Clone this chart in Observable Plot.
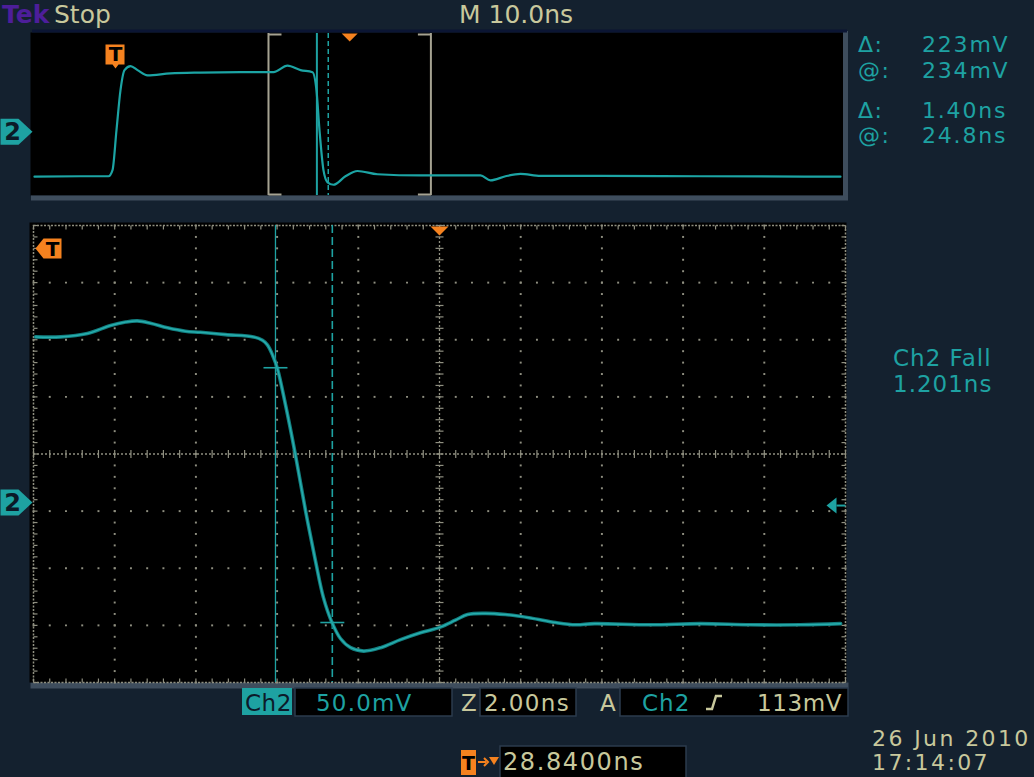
<!DOCTYPE html>
<html><head><meta charset="utf-8">
<script src="https://cdn.jsdelivr.net/npm/d3@7"></script>
<script src="https://cdn.jsdelivr.net/npm/@observablehq/plot@0.6"></script>
<style>
html,body{margin:0;padding:0;background:#14212f;}
#wrap{position:relative;width:1034px;height:777px;overflow:hidden;background:#14212f;}
#wrap svg{position:absolute;left:0;top:0;}
</style></head><body><div id="wrap"></div>
<script>
// ---------- data (time in ns, voltage in mV) ----------
const detailTime = [18.89, 19.51, 20.17, 20.74, 21.11, 21.40, 21.72, 22.14, 22.58, 22.95, 23.57, 24.26, 24.48, 24.60, 24.73, 24.85, 25.05, 25.29, 25.54, 25.79, 25.98, 26.18, 26.40, 26.65, 26.97, 27.39, 27.88, 28.37, 28.86, 29.23, 29.53, 29.97, 30.46, 31.08, 31.70, 32.19, 32.66, 34.04, 35.27, 36.50, 37.73, 38.72];
const detailMv   = [145, 145, 148, 155, 158, 159, 157, 153, 150, 149, 147, 145, 142, 138, 129, 117, 85, 42, -7, -52, -83, -104, -119, -127, -130, -127, -120, -114, -109, -103, -98, -97, -98, -101, -105, -107, -106, -107, -106, -107, -107, -106];
const overviewTime = [-9.98, -4.31, -0.86, -0.37, 0.12, 0.61, 1.11, 1.85, 2.71, 3.94, 6.77, 10.47, 15.39, 19.46, 21.18, 22.78, 24.26, 24.75, 25.12, 25.61, 26.11, 26.84, 28.32, 29.80, 32.26, 37.56, 44.95, 46.18, 48.03, 49.88, 52.34, 59.73, 72.04, 89.28];
const overviewMv   = [-111, -110, -110, -95, 4, 102, 152, 162, 152, 139, 144, 146, 147, 147, 163, 152, 147, 102, 4, -95, -125, -131, -110, -97, -105, -108, -108, -120, -110, -104, -109, -109, -110, -111];
const cursorTime = [24.8, 26.2];
const cursorMv = [118, -105];
const triggerTime = 0;
const triggerToCenter = 28.84;
const mainX = [18.84, 38.84];      // 2.00 ns/div x 10
const overX = [-10.1, 89.9];       // 10.0 ns/div x 10
const yMv = [-157.5, 242.5];       // 50.0 mV/div x 8
const readoutLabels = ["Δ:", "@:", "Δ:", "@:"];
const readoutValues = ["223mV", "234mV", "1.40ns", "24.8ns"];
const measureLines = ["Ch2 Fall", "1.201ns"];
const dateLines = ["26 Jun 2010", "17:14:07"];

// ---------- styles ----------
const W = 1034, H = 777;
const font = "DejaVu Sans";
const teal = "#1ea2a2", beige = "#c8c89c", orange = "#f5821f", gridC = "#8f8f80", slate = "#3e4d5d";

const seg = (x1, y1, x2, y2) => ({draw(c) { c.moveTo(x1, y1); c.lineTo(x2, y2); }});
const poly = pts => ({draw(c) { pts.forEach(([x, y], i) => i ? c.lineTo(x, y) : c.moveTo(x, y)); c.closePath(); }});

const detail = detailTime.map((t, i) => ({t, v: detailMv[i]}));
const overview = overviewTime.map((t, i) => ({t, v: overviewMv[i]}));
const cursors = cursorTime.map((t, i) => ({t, v: cursorMv[i]}));

// graticule positions
const majorX = d3.range(0, 11).map(k => mainX[0] + 2 * k);
const majorY = d3.range(0, 9).map(k => yMv[0] + 50 * k);
const centerX = majorX[5], centerY = majorY[4];
const innerX = majorX.slice(1, -1).filter(d => d !== centerX);
const innerY = majorY.slice(1, -1).filter(d => d !== centerY);
const minorX = d3.range(0, 51).map(k => mainX[0] + 0.4 * k);
const minorY = d3.range(0, 41).map(k => yMv[0] + 10 * k);
const gridDots = [
  ...innerX.flatMap(x => minorY.map(y => ({x, y}))),
  ...innerY.flatMap(y => minorX.map(x => ({x, y})))
];

const groundFlag = poly([[-33, -13], [-15, -13], [-1, 0], [-15, 13], [-33, 13]]);

const main = Plot.plot({
  width: W, height: H,
  marginLeft: 33, marginRight: 189, marginTop: 225, marginBottom: 95,
  x: {domain: mainX, axis: null},
  y: {domain: yMv, axis: null},
  style: {background: "transparent", overflow: "visible"},
  marks: [
    Plot.frame({anchor: "bottom", stroke: slate, strokeWidth: 6, dy: 3}),
    Plot.frame({fill: "#000", insetLeft: -4, insetRight: -1, insetTop: -3, insetBottom: 0}),
    Plot.dot(gridDots, {x: "x", y: "y", symbol: "square", r: 1.1, fill: gridC}),
    Plot.ruleX([centerX], {stroke: gridC, strokeWidth: 1.3, strokeDasharray: "2,2"}),
    Plot.ruleY([centerY], {stroke: gridC, strokeWidth: 1.3, strokeDasharray: "2,2"}),
    Plot.dot(minorX, {x: d => d, y: centerY, symbol: seg(0, -4, 0, 4), stroke: gridC, strokeWidth: 1.2}),
    Plot.dot(minorY, {x: centerX, y: d => d, symbol: seg(-4, 0, 4, 0), stroke: gridC, strokeWidth: 1.2}),
    Plot.frame({stroke: gridC, strokeWidth: 1.5, strokeDasharray: "2,1.5"}),
    Plot.dot(minorX, {x: d => d, y: yMv[1], symbol: seg(0, 0, 0, 4), stroke: gridC, strokeWidth: 1.2}),
    Plot.dot(minorX, {x: d => d, y: yMv[0], symbol: seg(0, 0, 0, -4), stroke: gridC, strokeWidth: 1.2}),
    Plot.dot(minorY, {x: mainX[0], y: d => d, symbol: seg(0, 0, 4, 0), stroke: gridC, strokeWidth: 1.2}),
    Plot.dot(minorY, {x: mainX[1], y: d => d, symbol: seg(0, 0, -4, 0), stroke: gridC, strokeWidth: 1.2}),
    // cursors
    Plot.ruleX([cursorTime[0]], {stroke: teal, strokeWidth: 1.3}),
    Plot.ruleX([cursorTime[1]], {stroke: teal, strokeWidth: 1.6, strokeDasharray: "8,4"}),
    // waveform
    Plot.line(detail, {x: "t", y: "v", stroke: "#137f80", strokeWidth: 3.6, curve: "catmull-rom"}),
    Plot.line(detail, {x: "t", y: "v", stroke: "#27aeae", strokeWidth: 1.5, curve: "catmull-rom"}),
    Plot.dot(cursors, {x: "t", y: "v", symbol: seg(-12, 0, 12, 0), stroke: teal, strokeWidth: 1.6}),
    // markers
    Plot.dot([triggerToCenter], {x: d => d, frameAnchor: "top", symbol: poly([[-9, 1], [9, 1], [0, 10]]), fill: orange}),
    Plot.dot([0], {frameAnchor: "top-left", symbol: poly([[2, 23], [10, 13], [28, 13], [28, 33], [10, 33]]), fill: orange}),
    Plot.text(["T"], {text: d => d, frameAnchor: "top-left", dx: 19, dy: 24, textAnchor: "middle", lineAnchor: "middle", fill: "#000", fontWeight: "bold", fontSize: 20, fontFamily: font}),
    Plot.dot([0], {x: mainX[0], y: 0, symbol: groundFlag, fill: teal}),
    Plot.text(["2"], {text: d => d, x: mainX[0], y: 0, dx: -21, dy: 1, textAnchor: "middle", lineAnchor: "middle", fill: "#0b1a28", fontWeight: "bold", fontSize: 24, fontFamily: font}),
    Plot.dot([0], {x: mainX[1], y: 0, dy: 3, symbol: poly([[-19, 0], [-9, -8], [-9, 8]]), fill: teal}),
    Plot.dot([0], {x: mainX[1], y: 0, dy: 3, symbol: seg(-9, 0, 0, 0), stroke: teal, strokeWidth: 2})
  ]
});

const over = Plot.plot({
  width: W, height: 205,
  marginLeft: 33, marginRight: 189, marginTop: 33, marginBottom: 10,
  x: {domain: overX, axis: null},
  y: {domain: yMv, axis: null},
  style: {background: "transparent", overflow: "visible"},
  marks: [
    Plot.frame({fill: "#000", insetLeft: -3, insetRight: 2, insetTop: -1, insetBottom: 0}),
    Plot.frame({anchor: "right", stroke: slate, strokeWidth: 5, dx: 0}),
    Plot.frame({anchor: "bottom", stroke: slate, strokeWidth: 5, dy: 2.5}),
    Plot.frame({anchor: "top", stroke: "#0b1533", strokeWidth: 3, dy: -2.5}),
    // zoom window bracket
    Plot.ruleX(mainX, {stroke: "#a6a392", strokeWidth: 2}),
    Plot.dot([mainX[0]], {x: d => d, frameAnchor: "top", symbol: seg(0, 1, 13, 1), stroke: "#a6a392", strokeWidth: 2}),
    Plot.dot([mainX[0]], {x: d => d, frameAnchor: "bottom", symbol: seg(0, -1, 13, -1), stroke: "#a6a392", strokeWidth: 2}),
    Plot.dot([mainX[1]], {x: d => d, frameAnchor: "top", symbol: seg(-13, 1, 0, 1), stroke: "#a6a392", strokeWidth: 2}),
    Plot.dot([mainX[1]], {x: d => d, frameAnchor: "bottom", symbol: seg(-13, -1, 0, -1), stroke: "#a6a392", strokeWidth: 2}),
    // cursors
    Plot.ruleX([cursorTime[0]], {stroke: teal, strokeWidth: 2}),
    Plot.ruleX([cursorTime[1]], {stroke: teal, strokeWidth: 1.5, strokeDasharray: "5,3"}),
    // waveform
    Plot.line(overview, {x: "t", y: "v", stroke: "#1ca4a4", strokeWidth: 2.2, curve: "monotone-x"}),
    // markers
    Plot.dot([triggerToCenter], {x: d => d, frameAnchor: "top", symbol: poly([[-8, 0], [8, 0], [0, 8]]), fill: orange}),
    Plot.dot([triggerTime], {x: d => d, frameAnchor: "top", symbol: poly([[-10, 11], [9, 11], [9, 31], [3, 31], [0, 35], [-3, 31], [-10, 31]]), fill: orange}),
    Plot.text(["T"], {text: d => d, x: triggerTime, frameAnchor: "top", dy: 21, textAnchor: "middle", lineAnchor: "middle", fill: "#000", fontWeight: "bold", fontSize: 20, fontFamily: font}),
    Plot.dot([0], {x: overX[0], y: 0, symbol: groundFlag, fill: teal}),
    Plot.text(["2"], {text: d => d, x: overX[0], y: 0, dx: -21, dy: 1, textAnchor: "middle", lineAnchor: "middle", fill: "#0b1a28", fontWeight: "bold", fontSize: 24, fontFamily: font})
  ]
});

const wrap = document.getElementById("wrap");
wrap.appendChild(main);
wrap.appendChild(over);

// ---------- instrument readouts ----------
const ov = d3.create("svg").attr("width", W).attr("height", H).style("font-family", font);
const txt = (s, x, y, fill, size, ls = 0, extra = {}) => {
  const t = ov.append("text").attr("x", x).attr("y", y).attr("fill", fill)
    .attr("font-size", size).attr("letter-spacing", ls).text(s);
  Object.entries(extra).forEach(([k, v]) => t.attr(k, v));
  return t;
};
const box = (x, y, w, h, fill, stroke = "#2b3b4d") =>
  ov.append("rect").attr("x", x).attr("y", y).attr("width", w).attr("height", h).attr("fill", fill).attr("stroke", stroke).attr("stroke-width", 1.5);

txt("Tek", 2, 23, "#4d1e9a", 25, 0, {"font-weight": "bold"});
txt("Stop", 54, 23, beige, 25);
txt("M 10.0ns", 459, 23, beige, 25);

const rowY = [52, 78, 118, 143];
readoutLabels.forEach((s, i) => txt(s, 858, rowY[i], teal, 22, 1.5));
readoutValues.forEach((s, i) => txt(s, 922, rowY[i], teal, 22, 1.8));
measureLines.forEach((s, i) => txt(s, 893, [366, 392][i], teal, 23, 1));

// status bar
box(242, 688, 50, 27, teal, "none");
txt("Ch2", 245, 711, "#0c1a2a", 23, 0.5);
box(295, 688, 157, 28, "#000");
txt("50.0mV", 316, 711, teal, 23, 1.2);
txt("Z", 461, 711, beige, 23);
box(480, 688, 96, 28, "#000");
txt("2.00ns", 484, 711, beige, 23, 1.4);
txt("A", 600, 711, beige, 23);
box(620, 688, 228, 28, "#000");
txt("Ch2", 642, 711, teal, 23, 1);
ov.append("path").attr("d", "M706,709 L712,709 L716,696 L722,696").attr("fill", "none").attr("stroke", beige).attr("stroke-width", 2.5);
txt("113mV", 757, 711, beige, 23, 0.6);

box(461, 750, 15, 25, orange, "none");
txt("T", 468.5, 770, "#000", 19, 0, {"text-anchor": "middle", "font-weight": "bold"});
ov.append("path").attr("d", "M478,762 L486,762").attr("stroke", orange).attr("stroke-width", 2);
ov.append("path").attr("d", "M484,758 L488,762 L484,766").attr("fill", "none").attr("stroke", orange).attr("stroke-width", 2);
ov.append("path").attr("d", "M489,757 L499,757 L494,765 Z").attr("fill", orange);
box(500, 746, 186, 33, "#000");
txt("28.8400ns", 503, 770, beige, 24, 1.6);

dateLines.forEach((s, i) => txt(s, 872, [746, 770][i], beige, 22, 2.4));

wrap.appendChild(ov.node());
</script>
</body></html>
